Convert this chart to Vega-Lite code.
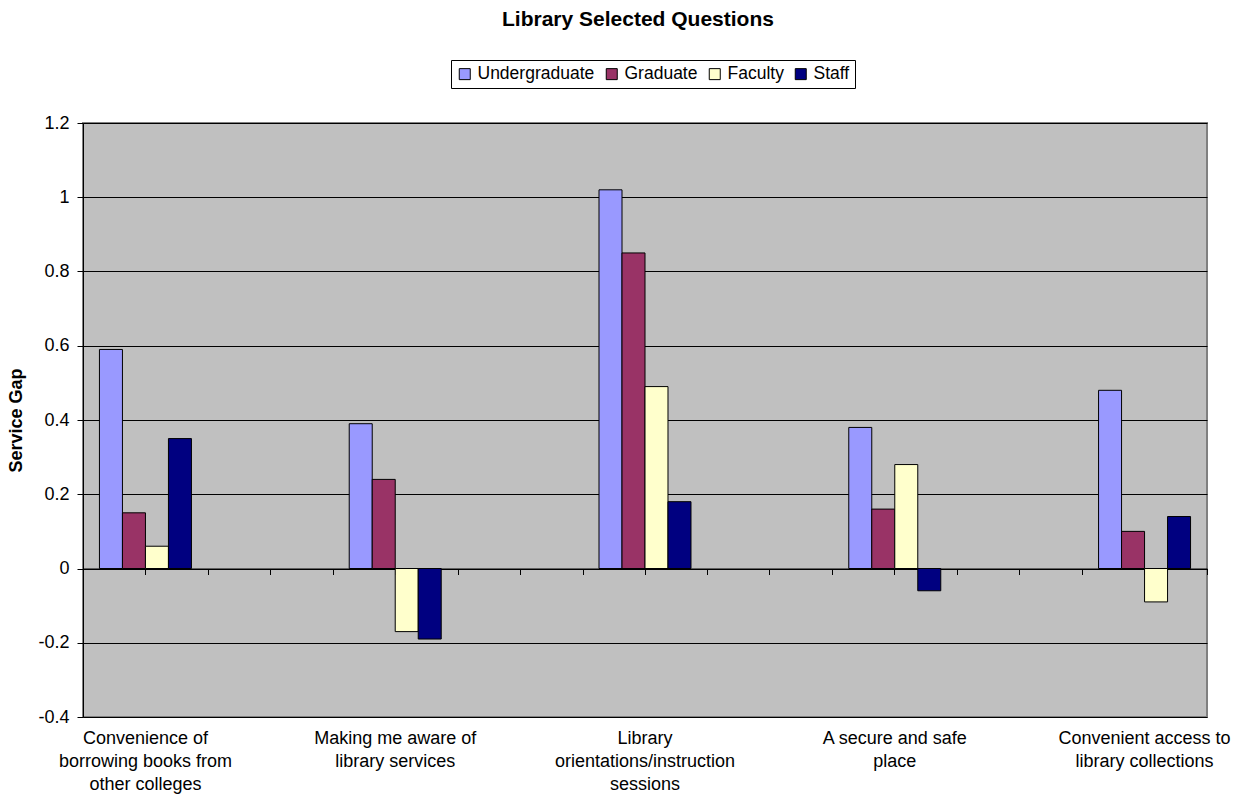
{
  "$schema": "https://vega.github.io/schema/vega-lite/v6.json",
  "width": 1124,
  "height": 594,
  "autosize": {"type": "none"},
  "padding": {"left": 83, "top": 123, "right": 32, "bottom": 81},
  "background": "white",
  "config": {
    "font": "Liberation Sans",
    "view": {"fill": "#C0C0C0", "stroke": "#808080", "strokeWidth": 2}
  },
  "title": {
    "text": "Library Selected Questions",
    "fontSize": 21,
    "fontWeight": "bold",
    "color": "black",
    "anchor": "middle",
    "dx": -7,
    "offset": 30
  },
  "data": {
    "values": [
      {"question": "Convenience of|borrowing books from|other colleges", "group": "Undergraduate", "gap": 0.59},
      {"question": "Convenience of|borrowing books from|other colleges", "group": "Graduate", "gap": 0.15},
      {"question": "Convenience of|borrowing books from|other colleges", "group": "Faculty", "gap": 0.06},
      {"question": "Convenience of|borrowing books from|other colleges", "group": "Staff", "gap": 0.35},
      {"question": "Making me aware of|library services", "group": "Undergraduate", "gap": 0.39},
      {"question": "Making me aware of|library services", "group": "Graduate", "gap": 0.24},
      {"question": "Making me aware of|library services", "group": "Faculty", "gap": -0.17},
      {"question": "Making me aware of|library services", "group": "Staff", "gap": -0.19},
      {"question": "Library|orientations/instruction|sessions", "group": "Undergraduate", "gap": 1.02},
      {"question": "Library|orientations/instruction|sessions", "group": "Graduate", "gap": 0.85},
      {"question": "Library|orientations/instruction|sessions", "group": "Faculty", "gap": 0.49},
      {"question": "Library|orientations/instruction|sessions", "group": "Staff", "gap": 0.18},
      {"question": "A secure and safe|place", "group": "Undergraduate", "gap": 0.38},
      {"question": "A secure and safe|place", "group": "Graduate", "gap": 0.16},
      {"question": "A secure and safe|place", "group": "Faculty", "gap": 0.28},
      {"question": "A secure and safe|place", "group": "Staff", "gap": -0.06},
      {"question": "Convenient access to|library collections", "group": "Undergraduate", "gap": 0.48},
      {"question": "Convenient access to|library collections", "group": "Graduate", "gap": 0.10},
      {"question": "Convenient access to|library collections", "group": "Faculty", "gap": -0.09},
      {"question": "Convenient access to|library collections", "group": "Staff", "gap": 0.14}
    ]
  },
  "layer": [
    {
      "mark": {"type": "bar", "stroke": "black", "strokeWidth": 1},
      "encoding": {
        "x": {
          "field": "question",
          "type": "nominal",
          "scale": {
            "domain": ["Convenience of|borrowing books from|other colleges", "_a", "Making me aware of|library services", "_b", "Library|orientations/instruction|sessions", "_c", "A secure and safe|place", "_d", "Convenient access to|library collections"],
            "paddingInner": 0,
            "paddingOuter": 0
          },
          "axis": {
            "orient": "bottom",
            "title": null,
            "labelAngle": 0,
            "domain": false,
            "ticks": false,
            "grid": false,
            "labelFontSize": 18,
            "labelColor": "black",
            "labelLineHeight": 23,
            "labelPadding": 12,
            "labelBaseline": "top",
            "labelLimit": 0,
            "labelOverlap": false,
            "labelBound": false,
            "labelExpr": "indexof(datum.label, '_') == 0 ? '' : split(datum.label, '|')"
          }
        },
        "xOffset": {
          "field": "group",
          "type": "nominal",
          "scale": {"domain": ["Undergraduate", "Graduate", "Faculty", "Staff"], "paddingInner": 0, "paddingOuter": 0.715}
        },
        "y": {
          "field": "gap",
          "type": "quantitative",
          "scale": {"domain": [-0.4, 1.2], "nice": false},
          "axis": {
            "title": "Service Gap",
            "titleFontSize": 18,
            "titleFontWeight": "bold",
            "titleColor": "black",
            "titlePadding": 12,
            "values": [-0.4, -0.2, 0, 0.2, 0.4, 0.6, 0.8, 1, 1.2],
            "labelExpr": "datum.value + ''",
            "labelFontSize": 18,
            "labelColor": "black",
            "labelPadding": 8,
            "tickSize": 6,
            "tickColor": "black",
            "domainColor": "black",
            "grid": true,
            "gridColor": "black",
            "gridOpacity": 1,
            "gridWidth": 1
          }
        },
        "color": {
          "field": "group",
          "type": "nominal",
          "scale": {"domain": ["Undergraduate", "Graduate", "Faculty", "Staff"], "range": ["#9999FF", "#993366", "#FFFFCC", "#000080"]},
          "legend": {
            "title": null,
            "orient": "none",
            "legendX": 368,
            "legendY": -63,
            "direction": "horizontal",
            "symbolType": "square",
            "symbolSize": 121,
            "symbolStrokeColor": "black",
            "symbolStrokeWidth": 1,
            "symbolOpacity": 1,
            "labelFontSize": 17.5,
            "labelColor": "black",
            "labelOffset": 4,
            "columnPadding": 8,
            "padding": 5,
            "strokeColor": "black",
            "fillColor": "white",
            "cornerRadius": 0
          }
        }
      }
    },
    {
      "mark": {"type": "rule", "opacity": 0},
      "encoding": {
        "x": {
          "field": "question",
          "type": "nominal",
          "scale": {
            "domain": ["Convenience of|borrowing books from|other colleges", "_a", "Making me aware of|library services", "_b", "Library|orientations/instruction|sessions", "_c", "A secure and safe|place", "_d", "Convenient access to|library collections"],
            "paddingInner": 0,
            "paddingOuter": 0
          },
          "axis": {
            "orient": "bottom",
            "offset": -148.5,
            "title": null,
            "labels": false,
            "ticks": true,
            "tickSize": 6,
            "tickColor": "black",
            "tickBand": "extent",
            "domain": true,
            "domainColor": "black",
            "grid": false
          }
        }
      }
    },
    {
      "mark": {"type": "rule", "opacity": 0},
      "encoding": {
        "x": {
          "field": "question",
          "type": "nominal",
          "scale": {
            "domain": ["Convenience of|borrowing books from|other colleges", "_a", "Making me aware of|library services", "_b", "Library|orientations/instruction|sessions", "_c", "A secure and safe|place", "_d", "Convenient access to|library collections"],
            "paddingInner": 0,
            "paddingOuter": 0
          },
          "axis": {
            "orient": "bottom",
            "offset": -148.5,
            "title": null,
            "labels": false,
            "ticks": true,
            "tickSize": 6,
            "tickColor": "black",
            "bandPosition": 0.5,
            "domain": false,
            "grid": false
          }
        }
      }
    }
  ],
  "resolve": {"axis": {"x": "independent"}}
}
